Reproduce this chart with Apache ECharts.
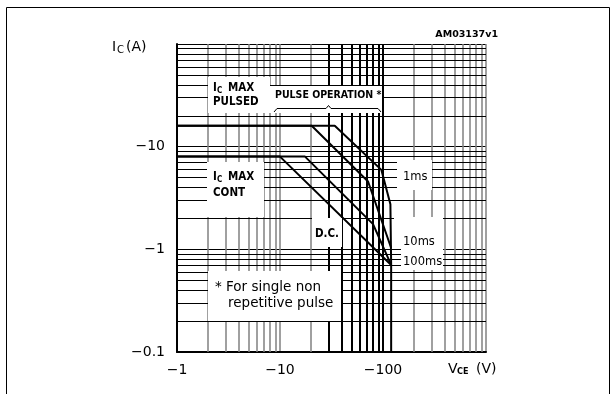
<!DOCTYPE html>
<html>
<head>
<meta charset="utf-8">
<script src="https://cdn.jsdelivr.net/npm/echarts@6/dist/echarts.min.js"></script>
<style>
  html, body { margin: 0; padding: 0; background: #fff; }
  #main { width: 616px; height: 394px; }
</style>
</head>
<body>
<div id="main"></div>
<script>
// curves (magnitudes, V and A)
var v1ms = [1, 34, 96.5, 118, 120, 120];
var i1ms = [16, 16, 5.94, 2.75, 0.705, 0.1];
var v10ms = [1, 20.3, 71.6, 120];
var i10ms = [16, 16, 4.58, 1.03];
var v100ms = [1, 17.5, 80, 120];
var i100ms = [8, 8, 1.76, 0.705];
var vDC = [1, 10, 120];
var iDC = [8, 8, 0.705];

// extra grid lines (log decades)
var xGrayLines = [2, 3, 4, 5, 6, 7, 8, 9, 20, 200, 300, 400, 500, 600, 700, 800, 900];
var xBlackLines = [30, 40, 50, 60, 70, 80, 90, 100];
var yLines = [0.2, 0.3, 0.4, 0.5, 0.6, 0.7, 0.8, 0.9, 2, 3, 4, 5, 6, 7, 8, 9, 20, 30, 40, 50, 60, 70, 80, 90];

function pairs(xs, ys) {
    var out = [];
    for (var i = 0; i < xs.length; i++) {
        out.push([xs[i], ys[i]]);
    }
    return out;
}

var gridLines = [];
for (var i = 0; i < xGrayLines.length; i++) {
    gridLines.push({ xAxis: xGrayLines[i], lineStyle: { color: '#808080', width: 1.5, type: 'solid' } });
}
for (var i = 0; i < yLines.length; i++) {
    gridLines.push({ yAxis: yLines[i], lineStyle: { color: '#000', width: 1, type: 'solid' } });
}
for (var i = 0; i < xBlackLines.length; i++) {
    gridLines.push({ xAxis: xBlackLines[i], lineStyle: { color: '#000', width: 2, type: 'solid' } });
}

var curveStyle = { color: '#000', width: 2 };
var boxFont = 'bold 11.5px "DejaVu Sans Condensed"';

function txt(x, y, s, font, align) {
    return {
        type: 'text', x: x, y: y, z: 60, silent: true,
        style: { text: s, font: font, fill: '#000', align: align || 'left', verticalAlign: 'middle' }
    };
}
function box(x, y, w, h) {
    return {
        type: 'rect', z: 50, silent: true,
        shape: { x: x, y: y, width: w, height: h },
        style: { fill: '#fff' }
    };
}

var myChart = echarts.init(document.getElementById('main'));
var option = {
    animation: false,
    grid: { left: 177, right: 130, top: 44, bottom: 42 },
    xAxis: {
        type: 'log', logBase: 10, min: 1, max: 1000,
        axisLine: { lineStyle: { color: '#000', width: 2 } },
        axisTick: { show: false },
        splitLine: { show: true, lineStyle: { color: '#808080', width: 1.5 } },
        axisLabel: {
            margin: 11,
            color: '#000',
            fontFamily: 'DejaVu Sans',
            fontSize: 14,
            formatter: function(v) { return v > 999 ? '' : '\u2212' + v; }
        }
    },
    yAxis: {
        type: 'log', logBase: 10, min: 0.1, max: 100,
        axisLine: { lineStyle: { color: '#000', width: 2 } },
        axisTick: { show: false },
        splitLine: { show: true, lineStyle: { color: '#000', width: 1 } },
        axisLabel: {
            margin: 12,
            color: '#000',
            fontFamily: 'DejaVu Sans',
            fontSize: 14,
            formatter: function(v) { return v > 99 ? '' : '\u2212' + v; }
        }
    },
    series: [
        {
            type: 'line', data: [], silent: true,
            markLine: { symbol: ['none', 'none'], silent: true, animation: false, label: { show: false }, data: gridLines }
        },
        { name: '1ms', type: 'line', data: pairs(v1ms, i1ms), symbol: 'none', lineStyle: curveStyle, z: 5 },
        { name: '10ms', type: 'line', data: pairs(v10ms, i10ms), symbol: 'none', lineStyle: curveStyle, z: 5 },
        { name: '100ms', type: 'line', data: pairs(v100ms, i100ms), symbol: 'none', lineStyle: curveStyle, z: 5 },
        { name: 'D.C.', type: 'line', data: pairs(vDC, iDC), symbol: 'none', lineStyle: curveStyle, z: 5 }
    ],
    graphic: {
        elements: [
            // frame
            { type: 'rect', z: 40, silent: true, shape: { x: 6.5, y: 7.5, width: 603, height: 400 }, style: { fill: 'none', stroke: '#000', lineWidth: 1 } },
            // axis names
            txt(112, 47, 'I', '14px "DejaVu Sans"'),
            txt(117, 50, 'C', '10px "DejaVu Sans"'),
            txt(126, 47, '(A)', '14px "DejaVu Sans"'),
            txt(448, 369, 'V', '14px "DejaVu Sans"'),
            txt(457, 372, 'CE', 'bold 9px "DejaVu Sans Condensed"'),
            txt(476, 369, '(V)', '14px "DejaVu Sans"'),
            txt(498, 35, 'AM03137v1', 'bold 9.5px "DejaVu Sans"', 'right'),
            // annotation boxes
            box(208, 77, 62, 36),
            txt(213, 88, 'I', boxFont),
            txt(217, 91, 'C', 'bold 8px "DejaVu Sans Condensed"'),
            txt(228, 88, 'MAX', boxFont),
            txt(213, 102, 'PULSED', boxFont),
            box(270, 86, 112, 27),
            txt(275, 95, 'PULSE OPERATION *', 'bold 10.5px "DejaVu Sans Condensed"'),
            {
                type: 'polyline', z: 60, silent: true,
                shape: { points: [[274, 112], [277, 108.5], [326, 108.5], [328.5, 105.5], [331, 108.5], [378, 108.5], [381, 112]] },
                style: { stroke: '#000', lineWidth: 1, fill: 'none' }
            },
            box(207, 162, 57, 55),
            txt(213, 177, 'I', boxFont),
            txt(217, 180, 'C', 'bold 8px "DejaVu Sans Condensed"'),
            txt(228, 177, 'MAX', boxFont),
            txt(213, 193, 'CONT', boxFont),
            box(312, 218, 30, 29),
            txt(327, 234, 'D.C.', boxFont, 'center'),
            box(397, 160, 35, 30),
            txt(403, 177, '1ms', '11.5px "DejaVu Sans"'),
            box(394, 217, 49, 31),
            box(401, 247, 42, 23),
            txt(403, 242, '10ms', '11.5px "DejaVu Sans"'),
            txt(403, 262, '100ms', '11.5px "DejaVu Sans"'),
            box(208, 271, 133, 50),
            txt(215, 287, '* For single non', '13.5px "DejaVu Sans"'),
            txt(228, 303, 'repetitive pulse', '13.5px "DejaVu Sans"')
        ]
    }
};
myChart.setOption(option);
</script>
</body>
</html>
